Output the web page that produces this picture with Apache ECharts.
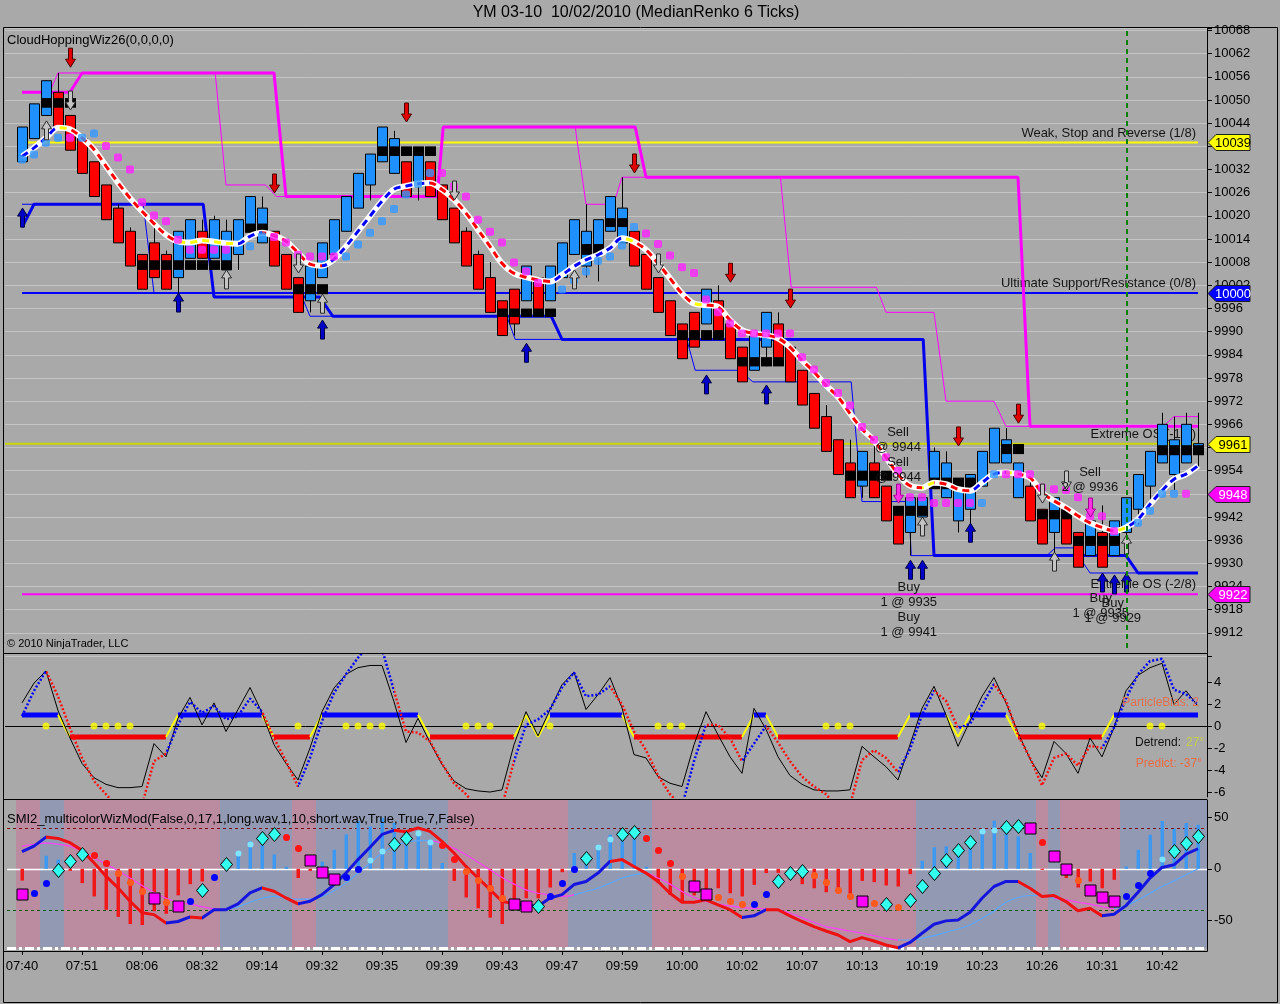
<!DOCTYPE html>
<html>
<head>
<meta charset="utf-8">
<title>YM 03-10 MedianRenko</title>
<script src="https://cdn.jsdelivr.net/npm/echarts@6/dist/echarts.min.js"></script>
<style>
html,body{margin:0;padding:0;background:#a9a9a9;overflow:hidden;}
#chart{width:1280px;height:1004px;}
</style>
</head>
<body>
<div id="chart"></div>
<script>
// ================= DATA =================
const timeLabels = ['07:40','07:51','08:06','08:32','09:14','09:32','09:35','09:39','09:43','09:47','09:59','10:00','10:02','10:07','10:13','10:19','10:23','10:26','10:31','10:42'];

const barOpen = [
10034,10040,10046,10052,10046,10040,10034,10028,10022,10016,
10010,10013,10010,10004,10009,10016,10009,10006,10010,10016,
10013,10016,10010,10004,9998,10004,10010,10016,10022,10028,
10034,10031,10034,10028,10034,10028,10022,10016,10010,10004,
9998,10001,9998,10004,9998,10004,10010,10007,10010,10016,
10013,10016,10010,10004,9998,9992,9995,9992,9998,9992,
9986,9980,9986,9992,9986,9980,9974,9968,9962,9956,
9950,9956,9950,9944,9938,9942,9950,9947,9941,9944,
9950,9956,9956,9947,9950,9944,9938,9944,9938,9932,
9938,9932,9938,9944,9950,9956,9953,9956,9959];
const barClose = [
10043,10049,10055,10043,10037,10031,10025,10019,10013,10007,
10001,10004,10001,10016,10019,10009,10019,10016,10019,10025,
10022,10007,10001,9995,10007,10013,10019,10025,10031,10036,
10043,10040,10025,10037,10025,10019,10013,10007,10001,9995,
9989,9992,10007,9995,10007,10013,10019,10016,10019,10025,
10022,10007,10001,9995,9989,9983,9986,10001,9989,9983,
9977,9989,9995,9983,9977,9971,9965,9959,9953,9947,
9959,9947,9941,9935,9947,9947,9959,9956,9950,9953,
9959,9965,9962,9956,9941,9935,9947,9935,9929,9941,
9929,9941,9947,9953,9959,9966,9962,9966,9961];
const barHigh = [
10043,10049,10055,10057,10046,10040,10034,10028,10023,10017,
10010,10018,10011,10016,10019,10019,10020,10019,10019,10025,
10025,10016,10010,10004,10007,10013,10019,10025,10031,10036,
10043,10042,10034,10037,10034,10028,10022,10017,10011,10008,
9998,10001,10007,10004,10007,10013,10019,10023,10019,10025,
10030,10016,10010,10004,9998,9992,9995,10001,10002,9992,
9986,9989,9995,9995,9986,9980,9974,9971,9962,9962,
9959,9962,9950,9944,9947,9947,9960,9959,9950,9953,
9959,9965,9965,9956,9953,9944,9947,9944,9938,9941,
9945,9941,9947,9953,9959,9969,9968,9969,9969];
const barLow = [
10034,10040,10046,10043,10037,10031,10025,10019,10013,10007,
10001,10004,10001,9999,10009,10009,10009,10006,10006,10016,
10013,10007,10001,9995,9995,10004,10010,10016,10022,10024,
10034,10031,10025,10024,10025,10019,10013,10007,10001,9995,
9989,9989,9998,9995,9998,10004,10010,10004,10003,10016,
10013,10007,10001,9995,9989,9983,9986,9992,9989,9983,
9977,9980,9981,9983,9977,9971,9965,9959,9953,9947,
9947,9947,9941,9935,9932,9942,9950,9947,9938,9940,
9950,9956,9956,9947,9941,9935,9930,9935,9929,9932,
9929,9932,9935,9940,9946,9956,9949,9956,9955];

// black consolidation boxes: [bar, low, high]
const blackBoxes = [
[2,10048,10050.5],[3,10048,10050.5],[4,10048,10050.5],
[10,10006,10008.5],[11,10006,10008.5],[12,10006,10008.5],[13,10006,10008.5],[14,10006,10008.5],[15,10006,10008.5],[16,10006,10008.5],[17,10006,10008.5],
[19,10015.6,10018],[20,10015.6,10018],
[23,9999.7,10002.3],[24,9999.7,10002.3],[25,9999.7,10002.3],
[30,10035.5,10038],[31,10035.5,10038],[32,10035.5,10038],[33,10035.5,10038],[34,10035.5,10038],
[40,9993.8,9996],[41,9993.8,9996],[42,9993.8,9996],[43,9993.8,9996],[44,9993.8,9996],
[47,10009.9,10012.7],[48,10009.9,10012.7],
[49,10017.1,10019.4],[50,10017.1,10019.4],
[55,9987.8,9990.4],[56,9987.8,9990.4],[57,9987.8,9990.4],[58,9987.8,9990.4],
[60,9981,9983.4],[61,9981,9983.4],[62,9981,9983.4],[63,9981,9983.4],
[69,9951.4,9954],[70,9951.4,9954],[71,9951.4,9954],[72,9951.4,9954],
[73,9942.3,9944.9],[74,9942.3,9944.9],[75,9942.3,9944.9],
[76,9949.2,9952.2],[77,9949.2,9952.2],[78,9949.2,9952.2],[79,9949.2,9952.2],
[82,9958.3,9960.9],[83,9958.3,9960.9],
[85,9941.4,9943.8],[86,9941.4,9943.8],[87,9941.4,9943.8],
[88,9934.5,9937.1],[89,9934.5,9937.1],[90,9934.5,9937.1],[91,9934.5,9937.1],
[95,9958,9960.6],[96,9958,9960.6],[97,9958,9960.6],[98,9958,9960.6]];

const maLine = [
10035.4,10037.6,10040.2,10042.8,10042.4,10040.2,10037.2,10032.9,10028.6,10024.6,
10021.2,10018,10015.1,10013.4,10013.1,10013.6,10013.3,10012.9,10012.8,10014.7,
10015.6,10014.9,10013.4,10010.4,10007.5,10007.1,10008.8,10012.1,10016,10019.9,
10023.8,10026.9,10027.7,10028.3,10028.5,10026.8,10024.2,10020.7,10016.4,10012.1,
10007.7,10005.1,10004.1,10003.4,10003,10004.7,10006.9,10008.6,10009.9,10011.6,
10014.2,10013.3,10011.2,10007.7,10003.8,9999.9,9997.3,9996.9,9996.4,9993,
9990.4,9989.5,9989.1,9988.3,9986,9982.6,9979.6,9976.1,9973.1,9968.8,
9964.8,9961.8,9957.5,9953.1,9950.1,9949.6,9950.9,9950.5,9949.2,9948.8,
9950.9,9953.1,9953.5,9953.1,9952.2,9948.3,9946.2,9944.4,9942.3,9940.5,
9939.3,9938.4,9939.3,9941.4,9945.3,9948.8,9951.8,9953.1,9955.3];
// trend of each MA segment (bar i -> i+1): 1 up, -1 down, 0 flat
const maTrend = [
1,1,1,0,-1,-1,-1,-1,-1,-1,
-1,-1,-1,0,0,0,0,0,1,1,
-1,-1,-1,-1,-1,1,1,1,1,1,
1,1,1,1,-1,-1,-1,-1,-1,-1,
-1,-1,-1,-1,1,1,1,1,1,1,
0,-1,-1,-1,-1,-1,0,-1,-1,-1,
-1,-1,-1,-1,-1,-1,-1,-1,-1,-1,
-1,-1,-1,-1,-1,0,-1,-1,-1,1,
1,1,0,-1,-1,-1,-1,-1,-1,-1,
-1,0,1,1,1,1,1,1];

const dotPink = [
null,null,null,null,10040.2,null,null,10038.1,10035.1,10032,
10023.5,10020.1,10018.6,10013.8,10011.2,10011.2,10011.2,10011.2,null,null,
null,10014.5,10013.1,10009.9,10009.5,10009.5,10009.5,null,null,null,
null,null,null,null,null,10031.1,10027.6,10025,10019,10015.9,
10013.1,10007.9,10005.6,10002.6,null,null,null,null,null,null,
null,null,10015.4,10012.7,10009.7,10006.7,10005.2,9998.3,9995,9992.1,
9989.5,9989.5,9989.5,9989.5,9989.5,9983.4,9980.2,9976.7,9974.1,9970.9,
9965.3,9962,9957.5,9954,9947.1,9947.1,9945.6,9945.6,9945.6,9945.6,
null,null,9953.1,9953.1,9953.1,9949.6,9949.2,9949,9947.1,9942.2,
9942.2,9938.3,null,null,null,null,null,9948,null];
const dotBlue = [
10034.6,10035.9,10038.9,10040.2,null,10040.2,10041.3,null,null,null,
null,null,null,null,null,null,null,null,null,10012.1,
10014.7,null,null,null,null,null,null,10009.5,10012.6,10015.6,
10018.6,10021.8,10025.5,10028.3,10031.1,null,null,null,null,null,
null,null,null,null,null,10000.9,10003.4,10005.6,10008.4,10009.5,
10012.3,10017.1,null,null,null,null,null,null,null,null,
null,null,null,null,null,null,null,null,null,null,
null,null,null,null,null,null,null,null,null,null,
9945.6,9953.1,null,null,null,null,null,null,null,null,
null,null,null,9940.5,9943.6,9948,9948,null,null];

// step channel lines [bar, price]
const magentaThick = [[0,10052],[4,10052],[5,10057],[21,10057],[22,10025],[34.6,10025],[35.1,10043],[51.1,10043],[52,10030],[83,10030],[84,9965.5],[98,9965.5]];
const magentaThin = [[2.3,10052],[3,10057],[16.1,10057],[17,10028],[20.3,10028],[21.2,10025],[34.6,10025],[35.1,10043],[46.1,10043],[47,10023],[49.3,10023],[50,10030],[63.2,10030],[64.1,10001.5],[71.2,10001.5],[72,9995],[76,9995],[77,9972],[81,9972],[82,9965.5],[95.1,9965.5],[96,9968],[98,9968]];
const blueThick = [[0,10017],[1,10023],[15.1,10023],[16,9999],[24.8,9999],[25.9,9994],[44.1,9994],[45,9988],[75.1,9988],[76,9932],[92,9932],[93,9927.5],[98,9927.5]];
const blueThin = [[0,10023],[10.1,10023],[11,10000],[23.2,10000],[24,9994],[40.4,9994],[41.1,9988],[55.4,9988],[56.1,9980],[59.8,9980],[60.9,9977],[69.1,9977],[70,9946],[73.9,9946],[74.1,9932],[85.4,9932],[86.1,9934],[87.6,9934],[89,9927.5],[98,9927.5]];

const levels = [[10039,'Weak, Stop and Reverse (1/8)'],[10000,'Ultimate Support/Resistance (0/8)'],[9961,'Extreme OS (-1/8)'],[9922,'Extreme OS (-2/8)']];
const priceTags = [[10039,'10039'],[10000,'10000'],[9961,'9961'],[9948,'9948'],[9922,'9922']];

// signal arrows: [bar, tip price, kind]
const arrows = [
[4,10058.5,'rd'],[21,10025.9,'rd'],[32,10044.3,'rd'],[51,10031.1,'rd'],[59,10002.8,'rd'],[64,9996.1,'rd'],[78,9960.4,'rd'],[83,9966.3,'rd'],
[0,10022,'bu'],[13,10000,'bu'],[25,9993,'bu'],[42,9987,'bu'],[57,9978.8,'bu'],[62,9976.2,'bu'],[74,9930.8,'bu'],[75,9930.8,'bu'],[79,9940.4,'bu'],[90,9927.5,'bu'],[91,9927,'bu'],[92,9927.5,'bu'],
[2,10044.6,'hu'],[17,10006,'hu'],[25,9999.7,'hu'],[46,10006,'hu'],[75,9942,'hu'],[86,9932.9,'hu'],[92,9937.3,'hu'],
[4,10047.4,'hd'],[23,10005.2,'hd'],[36,10024.1,'hd'],[53,10005.2,'hd'],[85,9945.6,'hd'],[87,9949,'hd'],
[73,9945.6,'pd'],[89,9942,'pd']];

// executions: [bar, price, line1, line2]
const trades = [
[73,9961.9,'Sell','@ 9944'],[73,9954.1,'Sell','@ 9944'],
[73.9,9921.8,'Buy','1 @ 9935'],[73.9,9914,'Buy','1 @ 9941'],
[89,9951.6,'Sell','2 @ 9936'],[89.9,9918.9,'Buy','1 @ 9935'],[90.9,9917.6,'Buy','1 @ 9929']];
const cursorBar = 92.08;

// ---- oscillator panel ----
const oscBlack = [
2.1,3.9,5.0,1.4,-1.1,-3.4,-4.7,-5.3,-5.6,-5.6,
-5.5,-1.6,-2.8,0.7,2.6,0.1,2.1,-0.5,1.5,3.5,
1.2,-1.7,-3.4,-4.9,-2.0,1.3,3.45,4.7,5.3,5.5,
5.5,2.2,-1.5,0.7,-1.5,-3.5,-5.0,-5.7,-5.9,-6.0,
-5.8,-1.7,1.3,-0.9,1.5,3.75,4.9,1.5,2.85,4.4,
1.65,-2.6,-2.9,-4.6,-5.2,-5.5,-1.7,1.3,-0.8,-2.8,
-4.3,1.6,-0.3,-2.8,-4.5,-5.3,-5.8,-5.9,-5.9,-5.8,
-1.85,-2.8,-3.7,-4.9,-1.7,1.6,3.6,1.0,-1.85,0.45,
2.7,4.4,2.1,-0.6,-3.0,-4.7,-1.4,-2.5,-4.3,-1.1,
-2.8,-0.15,3.2,4.6,5.3,5.7,1.95,3.2,1.8];
const oscDot = [
0.9,3.2,5.0,2.7,-0.2,-2.9,-5.0,-6.2,-7.5,-7.8,
-7.2,-3.2,-2.5,0.1,2.2,1.2,1.8,0.6,0.9,2.5,
1.3,-1.1,-3.2,-5.5,-2.9,0.45,3.0,4.7,6.2,7.5,
7.0,3.2,-0.5,-0.6,-1.4,-3.4,-5.2,-6.2,-7.5,-7.8,
-7.3,-3.2,0.1,0.6,1.5,3.5,4.85,2.7,2.85,3.6,
1.95,-0.5,-2.2,-4.5,-6.2,-7.3,-3.2,0.1,0.1,-1.1,
-3.2,-1.6,0.0,-1.5,-3.2,-4.6,-5.5,-6.2,-7.5,-7.2,
-3.1,-2.2,-2.9,-4.2,-2.1,1.0,3.2,2.3,-0.2,0.2,
1.9,3.8,2.3,-0.8,-2.9,-5.4,-2.9,-2.5,-3.6,-1.8,
-2.0,-0.15,2.5,4.7,5.9,6.1,3.3,2.9,1.95];
const oscDotTrend = [
1,1,-1,-1,-1,-1,-1,-1,-1,-1,
-1,-1,1,1,1,1,1,1,1,1,
-1,-1,-1,1,1,1,1,1,1,1,
1,-1,-1,-1,-1,-1,-1,-1,-1,-1,
-1,1,1,1,1,1,1,1,1,-1,
-1,-1,-1,-1,-1,1,1,-1,-1,-1,
1,1,-1,-1,-1,-1,-1,-1,-1,-1,
-1,-1,-1,1,1,1,-1,-1,1,1,
1,-1,-1,-1,-1,-1,-1,-1,-1,-1,
1,1,1,1,1,1,1,1];
const oscState = [
1,1,1,1,-1,-1,-1,-1,-1,-1,
-1,-1,-1,1,1,1,1,1,1,1,
1,-1,-1,-1,-1,1,1,1,1,1,
1,1,1,1,-1,-1,-1,-1,-1,-1,
-1,-1,1,-1,1,1,1,1,1,1,
1,-1,-1,-1,-1,-1,-1,-1,-1,-1,
-1,1,1,-1,-1,-1,-1,-1,-1,-1,
-1,-1,-1,-1,1,1,1,1,-1,1,
1,1,1,-1,-1,-1,-1,-1,-1,-1,
-1,1,1,1,1,1,1,1,1];
const oscZeroDots = [2,6,7,8,9,23,27,28,29,30,37,38,39,44,53,54,55,67,68,69,85,94,95];
const oscTicks = [-6,-4,-2,0,2,4];

// ---- SMI panel ----
const smiHist = [
-11.5,0,12.7,9,-2,-14,-27,-40,-47,-54,
-55,-41.5,-44,-26,-15,-12.4,0,7.5,17,27,
23.5,14,2,-9,-2,7,18.6,33.6,46.7,41.5,
50,45,36.6,35,26.8,5.6,-11.8,-28,-38.6,-47.7,
-54,-40,-28.8,-28.8,-18.3,-3.3,15.4,10.5,23.5,33.3,
36.6,33,2,-14,-25.5,-31.7,-26,-20.6,-19,-23.9,
-27,-15.7,-4.2,-4,-2,-15,-19,-22.9,-22,-25.5,
-11.8,-13,-16.3,-17.3,-5.2,7.8,21,22,17,27,
36.6,47,43,31.7,15.4,-1,0,-9,-18.3,-12.4,
-19,-10.8,2.3,18.6,33.3,46.7,39,44.7,43];
const smiLine = [
16.7,22.2,31,29.7,25.5,18,5.9,-7.2,-18.6,-31.7,
-43,-44.8,-53,-51.5,-47,-48,-40,-40,-34.3,-23.5,
-18.6,-21.9,-28.5,-34.3,-31.7,-25.2,-15.4,-4.2,9,21,
33.6,37.6,36.2,40,36.6,26.8,15.4,2.3,-9,-20.3,
-31.7,-34.3,-35.6,-36.6,-28.5,-25.2,-15.4,-12.4,-4.2,7.2,
9,2.3,-4.2,-12.4,-23.9,-32.7,-32.7,-30.4,-35.3,-40,
-47.7,-46,-40,-40,-46,-51.5,-56.5,-60.8,-64.7,-71.2,
-67.3,-70.6,-74.5,-77.2,-72,-63,-54.2,-50.9,-50,-42.5,
-28.8,-17.3,-12.4,-12.4,-19,-27,-26.1,-32,-41,-38.6,
-46,-44.5,-36,-23,-9,1.3,3.9,14.4,19.6];
const smiTrend = [
1,1,-1,-1,-1,-1,-1,-1,-1,-1,
-1,-1,1,1,-1,1,1,1,1,1,
-1,-1,-1,1,1,1,1,1,1,1,
1,-1,-1,-1,-1,-1,-1,-1,-1,-1,
-1,1,1,1,1,1,1,1,1,-1,
-1,-1,-1,-1,-1,-1,-1,-1,-1,-1,
1,1,-1,-1,-1,-1,-1,-1,-1,-1,
-1,-1,-1,1,1,1,1,1,1,1,
1,1,1,-1,-1,-1,-1,-1,-1,-1,
1,1,1,1,1,1,1,1];
const smiSignal = [
22,24,25,24,22,17,10.5,4.6,-2,-9,
-16.3,-23,-28.8,-32.7,-34.6,-37,-39.2,-39.5,-37,-32.7,
-28.8,-27,-28.8,-29.7,-29.7,-27,-21.4,-14,-4.2,5.6,
15.4,22,26,27.5,27.5,25,20,13.7,6.5,-1,
-8.5,-15,-20.6,-23.9,-25.5,-27,-25.5,-22.2,-19,-14,
-9,-5.9,-4.2,-9,-15,-22.2,-28.1,-32,-34.6,-36.3,
-37.9,-38.6,-39.2,-40.2,-43.5,-47.7,-52.3,-56.5,-58.8,-60.8,
-63,-65.4,-68,-69.6,-69.6,-68,-65.4,-62.1,-58.8,-54.9,
-48.4,-41.2,-32.7,-28.1,-26.1,-26.1,-28.8,-30.4,-32.7,-34.6,
-37,-38.6,-36,-30.4,-23.9,-17.3,-11.8,-5.9,0];
const sigTrend = [
-1,-1,-1,-1,-1,-1,-1,-1,-1,-1,
-1,-1,-1,-1,-1,-1,-1,1,1,1,
1,1,1,1,1,1,1,1,1,1,
1,1,1,1,-1,-1,-1,-1,-1,-1,
-1,-1,-1,-1,-1,-1,1,1,1,1,
1,1,-1,-1,-1,-1,-1,-1,-1,-1,
-1,-1,-1,-1,-1,-1,-1,-1,-1,-1,
-1,-1,-1,1,1,1,1,1,1,1,
1,1,1,1,1,1,-1,-1,-1,-1,
-1,1,1,1,1,1,1,1];
const smiMarkVal = [
-24.5,-23.3,-13.7,-1.6,7.5,14,13,5.2,-3.9,-12.7,
-21.9,-28.4,-32.7,-36.6,-31,-20.9,-7.8,4.6,15.7,24,
29.8,34.4,31.4,20.6,8.5,-2.9,-9.8,-7.8,-0.6,8.5,
17.3,23.9,30.4,34.7,26.5,23.2,9.8,-2.3,-11.4,-18.6,
-28.4,-34.3,-36.6,-36.6,-26.1,-13.7,0,10.1,21.2,28.8,
34.4,36,29.8,18,5.2,-7.2,-17,-24.5,-27.8,-31,
-34.3,-34.3,-24.5,-12,-3.9,-2.3,-6.2,-12.7,-20.3,-26.1,
-31.7,-33.3,-34,-37.6,-30.7,-17,-3.9,8.2,18,26.1,
36.9,37.9,40.8,41.8,40.2,26.5,12.4,0,-11.4,-20.9,
-27.5,-31.7,-26.8,-16.3,-3.9,9.2,17.3,25.5,32];
// S square, D diamond, r red dot, o orange dot, b blue dot, c light-cyan dot
const smiMarkKind = ('SbbDDDrroo'+'oSoSbDbDcc'+'DDrrSSSbbc'+'cDDccrrooo'+'oSSDbbbDcc'+
                     'DDrrroSSoo'+'obbDDDoooo'+'SoDoDDDDDD'+'ccDDSrSSoS'+'SSbbbcDDD').split('');
// background band per bar: 1 blue, -1 pink
const smiBand = [
-1,-1,1,1,-1,-1,-1,-1,-1,-1,
-1,-1,-1,-1,-1,-1,-1,1,1,1,
1,1,1,-1,-1,1,1,1,1,1,
1,1,1,1,1,1,-1,-1,-1,-1,
-1,-1,-1,-1,-1,-1,1,1,1,1,
1,1,1,-1,-1,-1,-1,-1,-1,-1,
-1,-1,-1,-1,-1,-1,-1,-1,-1,-1,
-1,-1,-1,-1,-1,1,1,1,1,1,
1,1,1,1,1,-1,1,-1,-1,-1,
-1,-1,1,1,1,1,1,1,1];
const smiTicks = [-50,0,50];
const smiGuides = [40,-40,0,-77.5];

// ================= CHART =================
const FONT = '"Liberation Sans", Arial, sans-serif';
const xMin = -17/12, xMax = 98.75;
const labelBars = timeLabels.map((_, k) => k * 5);
const chart = echarts.init(document.getElementById('chart'), null, {renderer: 'canvas'});

function piecesFrom(trend, colors) {
  const pieces = [];
  let start = 0;
  for (let s = 1; s <= trend.length; s++) {
    if (s === trend.length || trend[s] !== trend[start]) {
      pieces.push({gte: start, lt: s, color: colors[trend[start]]});
      start = s;
    }
  }
  pieces[0].gte = -10;
  pieces[pieces.length - 1].lt = 200;
  return pieces;
}
const xy = arr => arr.map((v, i) => [i, v]);
const xyNN = arr => arr.map((v, i) => [i, v]).filter(p => p[1] !== null);

const series = [];
const visualMaps = [];
const P = {xAxisIndex: 0, yAxisIndex: 0};
const O = {xAxisIndex: 1, yAxisIndex: 1};
const S = {xAxisIndex: 2, yAxisIndex: 2};

// ---- price panel ----
const levelStyle = [
  {color: '#ffff00', width: 2, from: 0},
  {color: '#0000ff', width: 2, from: 0},
  {color: '#ccd600', width: 2, from: xMin},
  {color: '#ff00ff', width: 2, from: 0}
];
series.push(Object.assign({
  type: 'custom', silent: true, z: 1,
  data: levels.map(l => [0, l[0]]), encode: {x: 0, y: 1},
  renderItem: (params, api) => {
    const lv = levels[params.dataIndex], st = levelStyle[params.dataIndex];
    const a = api.coord([st.from, lv[0]]), b = api.coord([98, lv[0]]);
    return {type: 'group', children: [
      {type: 'line', shape: {x1: a[0], y1: a[1], x2: b[0], y2: b[1]}, style: {stroke: st.color, lineWidth: st.width}},
      {type: 'text', x: b[0] - 2, y: a[1] - 3, style: {text: lv[1], fill: '#151515', font: '13px ' + FONT, textAlign: 'right', textVerticalAlign: 'bottom'}}
    ]};
  }
}, P));
series.push(Object.assign({type: 'line', data: magentaThin, symbol: 'none', silent: true, z: 2, lineStyle: {color: '#ff00ff', width: 1}}, P));
series.push(Object.assign({type: 'line', data: magentaThick, symbol: 'none', silent: true, z: 2, lineStyle: {color: '#ff00ff', width: 3}}, P));
series.push(Object.assign({type: 'line', data: blueThin, symbol: 'none', silent: true, z: 2, lineStyle: {color: '#0000ff', width: 1}}, P));
series.push(Object.assign({type: 'line', data: blueThick, symbol: 'none', silent: true, z: 2, lineStyle: {color: '#0000ee', width: 3}}, P));
// candles
series.push(Object.assign({
  type: 'custom', silent: true, z: 3,
  data: barOpen.map((o, i) => [i, o, barClose[i], barHigh[i], barLow[i]]),
  encode: {x: 0, y: [1, 2, 3, 4]},
  renderItem: (params, api) => {
    const i = api.value(0), o = api.value(1), c = api.value(2), h = api.value(3), l = api.value(4);
    const po = api.coord([i, o]), pc = api.coord([i, c]), ph = api.coord([i, h]), pl = api.coord([i, l]);
    const x = Math.round(po[0]);
    const top = Math.min(po[1], pc[1]), bot = Math.max(po[1], pc[1]);
    return {type: 'group', children: [
      {type: 'line', shape: {x1: x + 0.5, y1: ph[1], x2: x + 0.5, y2: pl[1]}, style: {stroke: '#000', lineWidth: 1}},
      {type: 'rect', shape: {x: x - 4.5, y: top, width: 10, height: Math.max(bot - top, 1)}, style: {fill: c >= o ? '#1e90ff' : '#ff0000', stroke: '#000', lineWidth: 1}}
    ]};
  }
}, P));
// black boxes
series.push(Object.assign({
  type: 'custom', silent: true, z: 4,
  data: blackBoxes, encode: {x: 0, y: [1, 2]},
  renderItem: (params, api) => {
    const a = api.coord([api.value(0), api.value(2)]), b = api.coord([api.value(0), api.value(1)]);
    const x = Math.round(a[0]);
    return {type: 'rect', shape: {x: x - 5, y: a[1], width: 11, height: b[1] - a[1]}, style: {fill: '#000'}};
  }
}, P));
// MA white base + dashed colored overlay
series.push(Object.assign({type: 'line', data: xy(maLine), symbol: 'none', smooth: 0.35, silent: true, z: 5, lineStyle: {color: '#ffffff', width: 6}}, P));
const idxMA = series.push(Object.assign({type: 'line', data: xy(maLine), symbol: 'none', smooth: 0.35, silent: true, z: 6, lineStyle: {width: 3, type: [7, 5]}}, P)) - 1;
visualMaps.push({type: 'piecewise', show: false, dimension: 0, seriesIndex: idxMA, pieces: piecesFrom(maTrend, {'-1': '#ff0000', '0': '#ffff00', '1': '#0000ff'})});
// dots
series.push(Object.assign({type: 'scatter', data: xyNN(dotPink), symbol: 'roundRect', symbolSize: 8, silent: true, z: 7, itemStyle: {color: '#ff22ff'}}, P));
series.push(Object.assign({type: 'scatter', data: xyNN(dotBlue), symbol: 'roundRect', symbolSize: 8, silent: true, z: 7, itemStyle: {color: '#3399ff'}}, P));
// arrows
const arrowStyle = {
  rd: {fill: '#e00000', stroke: '#4a0000', up: false},
  bu: {fill: '#0000c8', stroke: '#000040', up: true},
  hu: {fill: '#c4c4c4', stroke: '#2a2a2a', up: true},
  hd: {fill: '#c4c4c4', stroke: '#2a2a2a', up: false},
  pd: {fill: '#ff30e6', stroke: '#a00090', up: false}
};
series.push(Object.assign({
  type: 'custom', silent: true, z: 8,
  data: arrows.map(a => [a[0], a[1]]), encode: {x: 0, y: 1},
  renderItem: (params, api) => {
    const a = arrows[params.dataIndex], st = arrowStyle[a[2]];
    const p = api.coord([a[0], a[1]]);
    const d = st.up ? 1 : -1, L = 19, hh = 8, hw = 5, sw = 2;
    const pts = [[0, 0], [hw, d * hh], [sw, d * hh], [sw, d * L], [-sw, d * L], [-sw, d * hh], [-hw, d * hh]]
      .map(q => [Math.round(p[0]) + 0.5 + q[0], p[1] + q[1]]);
    return {type: 'polygon', shape: {points: pts}, style: {fill: st.fill, stroke: st.stroke, lineWidth: 1}};
  }
}, P));
// trade labels
series.push(Object.assign({
  type: 'custom', silent: true, z: 9,
  data: trades.map(t => [t[0], t[1]]), encode: {x: 0, y: 1},
  renderItem: (params, api) => {
    const t = trades[params.dataIndex];
    const p = api.coord([t[0], t[1]]);
    return {type: 'text', x: p[0], y: p[1], style: {text: t[2] + '\n' + t[3], fill: '#151515', font: '13px ' + FONT, textAlign: 'center', textVerticalAlign: 'middle', lineHeight: 15}};
  }
}, P));
// cursor line
series.push(Object.assign({
  type: 'custom', silent: true, z: 9,
  data: [[cursorBar, 10000]], encode: {x: 0, y: 1},
  renderItem: (params, api) => {
    const cs = params.coordSys;
    const x = Math.round(api.coord([cursorBar, 10000])[0]);
    return {type: 'line', shape: {x1: x, y1: cs.y + 3, x2: x, y2: cs.y + cs.height - 5}, style: {stroke: '#008000', lineWidth: 2, lineDash: [5, 4]}};
  }
}, P));
// right-axis tags
const tagStyle = [{bg: '#ffff00', fg: '#000'}, {bg: '#0000ff', fg: '#fff'}, {bg: '#ffff00', fg: '#000'}, {bg: '#ff00ff', fg: '#fff'}, {bg: '#ff00ff', fg: '#fff'}];
series.push(Object.assign({
  type: 'custom', silent: true, z: 20, clip: false,
  data: priceTags.map(t => [0, t[0]]), encode: {x: 0, y: 1},
  renderItem: (params, api) => {
    const t = priceTags[params.dataIndex], s = tagStyle[params.dataIndex];
    const y = Math.round(api.coord([0, t[0]])[1]) + 0.5;
    const x0 = params.coordSys.x + params.coordSys.width + 1;
    const h = 8;
    return {type: 'group', children: [
      {type: 'polygon', shape: {points: [[x0, y], [x0 + 8, y - h], [x0 + 42, y - h], [x0 + 42, y + h], [x0 + 8, y + h]]}, style: {fill: s.bg, stroke: '#202020', lineWidth: 1}},
      {type: 'text', x: x0 + 25, y: y + 0.5, style: {text: t[1], fill: s.fg, font: '13px ' + FONT, textAlign: 'center', textVerticalAlign: 'middle'}}
    ]};
  }
}, P));

// ---- oscillator panel ----
series.push(Object.assign({
  type: 'custom', silent: true, z: 1,
  data: [[0, 0]], encode: {x: 0, y: 1},
  renderItem: (params, api) => {
    const cs = params.coordSys;
    const y = Math.round(api.coord([0, 0])[1]) + 0.5;
    return {type: 'line', shape: {x1: cs.x, y1: y, x2: cs.x + cs.width, y2: y}, style: {stroke: '#000', lineWidth: 1}};
  }
}, O));
series.push(Object.assign({
  type: 'custom', silent: true, z: 2,
  data: oscState.slice(0, -1).map((s, i) => [i, s, oscState[i + 1]]), encode: {x: 0, y: [1, 2]},
  renderItem: (params, api) => {
    const i = api.value(0), s1 = api.value(1), s2 = api.value(2);
    const a = api.coord([i, s1]), b = api.coord([i + 1, s2]);
    if (s1 === s2) {
      return {type: 'line', shape: {x1: a[0], y1: a[1], x2: b[0], y2: b[1]}, style: {stroke: s1 > 0 ? '#0000ff' : '#f00000', lineWidth: 5, lineCap: 'butt'}};
    }
    return {type: 'line', shape: {x1: a[0], y1: a[1], x2: b[0], y2: b[1]}, style: {stroke: '#ffff00', lineWidth: 2}};
  }
}, O));
series.push(Object.assign({type: 'scatter', data: oscZeroDots.map(i => [i, 0]), symbol: 'circle', symbolSize: 7, silent: true, z: 3, itemStyle: {color: '#ffff00'}}, O));
series.push(Object.assign({type: 'line', data: xy(oscBlack), symbol: 'none', silent: true, z: 4, lineStyle: {color: '#000', width: 1}}, O));
const idxOscDot = series.push(Object.assign({type: 'line', data: xy(oscDot), symbol: 'none', silent: true, z: 5, lineStyle: {width: 2.5, type: [2, 2]}}, O)) - 1;
visualMaps.push({type: 'piecewise', show: false, dimension: 0, seriesIndex: idxOscDot, pieces: piecesFrom(oscDotTrend, {'-1': '#ff1010', '1': '#0000ff'})});

// ---- SMI panel ----
series.push(Object.assign({
  type: 'custom', silent: true, z: 0,
  data: smiBand.map((b, i) => [i, b]), encode: {x: 0, y: 1},
  renderItem: (params, api) => {
    const i = api.value(0), cs = params.coordSys;
    const x0 = Math.floor(api.coord([i - 0.5, 0])[0]);
    let x1 = Math.floor(api.coord([i + 0.5, 0])[0]);
    if (i === smiBand.length - 1) x1 = cs.x + cs.width;
    return {type: 'rect', shape: {x: x0, y: cs.y, width: x1 - x0, height: cs.height - 3}, style: {fill: api.value(1) > 0 ? '#929ab3' : '#bb8ba0'}};
  }
}, S));
const guideStyle = [
  {c: '#780000', w: 1, dash: [3, 3]},
  {c: '#005800', w: 1, dash: [3, 3]},
  {c: '#ffffff', w: 1.5, dash: null},
  {c: '#ffffff', w: 3, dash: [9, 3, 3, 3]}
];
series.push(Object.assign({
  type: 'custom', silent: true, z: 1,
  data: smiGuides.map(g => [0, g]), encode: {x: 0, y: 1},
  renderItem: (params, api) => {
    const g = guideStyle[params.dataIndex], cs = params.coordSys;
    const y = Math.round(api.coord([0, smiGuides[params.dataIndex]])[1]) + 0.5;
    const st = {stroke: g.c, lineWidth: g.w};
    if (g.dash) st.lineDash = g.dash;
    return {type: 'line', shape: {x1: cs.x + 2, y1: y, x2: cs.x + cs.width, y2: y}, style: st};
  }
}, S));
series.push(Object.assign({
  type: 'custom', silent: true, z: 2,
  data: xy(smiHist), encode: {x: 0, y: 1},
  renderItem: (params, api) => {
    const p0 = api.coord([api.value(0), 0]), p1 = api.coord([api.value(0), api.value(1)]);
    const top = Math.min(p0[1], p1[1]);
    return {type: 'rect', shape: {x: Math.round(p0[0]) - 1.5, y: top, width: 3.5, height: Math.abs(p1[1] - p0[1])}, style: {fill: api.value(1) >= 0 ? '#3f98f0' : '#f01818'}};
  }
}, S));
const idxSig = series.push(Object.assign({type: 'line', data: xy(smiSignal), symbol: 'none', smooth: 0.3, silent: true, z: 3, lineStyle: {width: 1.2}}, S)) - 1;
visualMaps.push({type: 'piecewise', show: false, dimension: 0, seriesIndex: idxSig, pieces: piecesFrom(sigTrend, {'-1': '#ff40ff', '1': '#5aa6ff'})});
const idxSmi = series.push(Object.assign({type: 'line', data: xy(smiLine), symbol: 'none', silent: true, z: 4, lineStyle: {width: 3}}, S)) - 1;
visualMaps.push({type: 'piecewise', show: false, dimension: 0, seriesIndex: idxSmi, pieces: piecesFrom(smiTrend, {'-1': '#ee1111', '1': '#1515dd'})});
const dotColors = {r: '#ff1414', o: '#ff5a1e', b: '#0000ff', c: '#7fe5ff'};
series.push(Object.assign({
  type: 'custom', silent: true, z: 5,
  data: xy(smiMarkVal), encode: {x: 0, y: 1},
  renderItem: (params, api) => {
    const k = smiMarkKind[params.dataIndex];
    const p = api.coord([api.value(0), api.value(1)]);
    const x = Math.round(p[0]) + 0.5, y = Math.round(p[1]) + 0.5;
    if (k === 'S') return {type: 'rect', shape: {x: x - 5.5, y: y - 5.5, width: 11, height: 11}, style: {fill: '#ff00ff', stroke: '#000', lineWidth: 1}};
    if (k === 'D') return {type: 'polygon', shape: {points: [[x, y - 7], [x + 6, y], [x, y + 7], [x - 6, y]]}, style: {fill: '#33ffee', stroke: '#000', lineWidth: 1}};
    return {type: 'circle', shape: {cx: x, cy: y, r: k === 'c' ? 3 : 3.5}, style: {fill: dotColors[k]}};
  }
}, S));

// ---- axes ----
const xAxisBase = {type: 'value', min: xMin, max: xMax, axisLine: {show: false, onZero: false}, axisTick: {show: false}, axisLabel: {show: false}, splitLine: {show: false}};
const yRight = (extra) => Object.assign({
  type: 'value', position: 'right',
  axisLine: {show: true, onZero: false, lineStyle: {color: '#000', width: 1}},
  axisTick: {show: true, length: 5, lineStyle: {color: '#000'}},
  axisLabel: {color: '#000', fontSize: 13, fontFamily: FONT, margin: 7},
  splitLine: {show: false}
}, extra);

const option = {
  animation: false,
  backgroundColor: '#a9a9a9',
  textStyle: {fontFamily: FONT},
  grid: [
    {left: 5, right: 73, top: 28, height: 628},
    {left: 5, right: 73, top: 655, height: 142},
    {left: 5, right: 73, top: 800, height: 151}
  ],
  xAxis: [
    Object.assign({gridIndex: 0}, xAxisBase),
    Object.assign({gridIndex: 1}, xAxisBase),
    Object.assign({}, xAxisBase, {
      gridIndex: 2,
      axisTick: {show: true, customValues: labelBars, length: 4, lineStyle: {color: '#000'}},
      axisLabel: {show: true, customValues: labelBars, formatter: v => timeLabels[Math.round(v / 5)] || '', color: '#000', fontSize: 13, fontFamily: FONT, margin: 9}
    })
  ],
  yAxis: [
    yRight({gridIndex: 0, min: 9906, max: 10068.65, interval: 6,
      axisLabel: {color: '#000', fontSize: 13, fontFamily: FONT, margin: 7,
        formatter: v => (v >= 9910 && Math.abs(v % 6) < 1e-6) ? String(v) : ''},
      splitLine: {show: true, lineStyle: {color: '#c4c4c4', width: 1}}}),
    yRight({gridIndex: 1, min: -6.45, max: 6.45,
      axisTick: {show: true, length: 5, customValues: oscTicks, lineStyle: {color: '#000'}},
      axisLabel: {color: '#000', fontSize: 13, fontFamily: FONT, margin: 7, customValues: oscTicks}}),
    yRight({gridIndex: 2, min: -80.35, max: 67.25,
      axisTick: {show: true, length: 5, customValues: smiTicks, lineStyle: {color: '#000'}},
      axisLabel: {color: '#000', fontSize: 13, fontFamily: FONT, margin: 7, customValues: smiTicks}})
  ],
  visualMap: visualMaps,
  series: series,
  graphic: [
    {type: 'rect', z: 100, silent: true, shape: {x: 3.5, y: 27.5, width: 1274, height: 975}, style: {fill: 'none', stroke: '#000', lineWidth: 1}},
    {type: 'line', z: 100, silent: true, shape: {x1: 3, y1: 653.5, x2: 1207, y2: 653.5}, style: {stroke: '#000', lineWidth: 1}},
    {type: 'line', z: 100, silent: true, shape: {x1: 3, y1: 799.5, x2: 1207, y2: 799.5}, style: {stroke: '#000', lineWidth: 1}},
    {type: 'line', z: 100, silent: true, shape: {x1: 3, y1: 951.5, x2: 1207.5, y2: 951.5}, style: {stroke: '#000', lineWidth: 1}},
    {type: 'text', z: 100, silent: true, x: 636, y: 13, style: {text: 'YM 03-10  10/02/2010 (MedianRenko 6 Ticks)', fill: '#000', font: '16px ' + FONT, textAlign: 'center', textVerticalAlign: 'middle'}},
    {type: 'text', z: 100, silent: true, x: 7, y: 40, style: {text: 'CloudHoppingWiz26(0,0,0,0)', fill: '#000', font: '13px ' + FONT, textAlign: 'left', textVerticalAlign: 'middle'}},
    {type: 'text', z: 100, silent: true, x: 7, y: 644, style: {text: '© 2010 NinjaTrader, LLC', fill: '#000', font: '11px ' + FONT, textAlign: 'left', textVerticalAlign: 'middle'}},
    {type: 'text', z: 100, silent: true, x: 7, y: 819, style: {text: 'SMI2_multicolorWizMod(False,0,17,1,long.wav,1,10,short.wav,True,True,7,False)', fill: '#000', font: '13px ' + FONT, textAlign: 'left', textVerticalAlign: 'middle'}},
    {type: 'text', z: 100, silent: true, x: 1199, y: 703, style: {text: 'ParticleBias: 2', fill: '#e2704e', font: '12px ' + FONT, textAlign: 'right', textVerticalAlign: 'middle'}},
    {type: 'text', z: 100, silent: true, x: 1181, y: 743, style: {text: 'Detrend:', fill: '#111', font: '12px ' + FONT, textAlign: 'right', textVerticalAlign: 'middle'}},
    {type: 'text', z: 100, silent: true, x: 1186, y: 743, style: {text: '27°', fill: '#c6d044', font: '12px ' + FONT, textAlign: 'left', textVerticalAlign: 'middle'}},
    {type: 'text', z: 100, silent: true, x: 1202, y: 764, style: {text: 'Predict: -37°', fill: '#ec6a42', font: '12px ' + FONT, textAlign: 'right', textVerticalAlign: 'middle'}}
  ]
};
chart.setOption(option);
</script>
</body>
</html>
